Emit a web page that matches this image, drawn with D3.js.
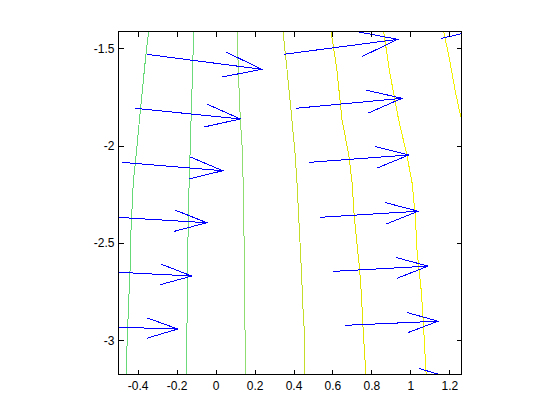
<!DOCTYPE html>
<html>
<head>
<meta charset="utf-8">
<script src="https://cdn.jsdelivr.net/npm/d3@7"></script>
<style>
  html, body { margin: 0; padding: 0; background: #ffffff; }
  svg { display: block; }
  .tick text { font-family: "Liberation Sans", Arial, Helvetica, sans-serif; font-size: 12px; fill: #000; }
</style>
</head>
<body>
<svg id="chart" width="560" height="420"></svg>
<script>
// ---------- data ----------
// axis limits (data units)
const xLimits = [-0.4986, 1.2626];
const yLimits = [-3.1757, -1.4137];

// tick values and labels
const xTicks = [-0.4, -0.2, 0, 0.2, 0.4, 0.6, 0.8, 1, 1.2];
const xTickLabels = ["-0.4", "-0.2", "0", "0.2", "0.4", "0.6", "0.8", "1", "1.2"];
const yTicks = [-1.5, -2, -2.5, -3];
const yTickLabels = ["-1.5", "-2", "-2.5", "-3"];

// quiver: arrow tails (x, y) and components (u, v)
const quiverX = [-0.353, -0.416, -0.480, -0.543, -0.606, -0.670,
                  0.349,  0.414,  0.478,  0.538,  0.603,  0.666, 0.731,
                  1.159];
const quiverY = [-1.531, -1.808, -2.086, -2.366, -2.645, -2.928,
                 -1.531, -1.808, -2.086, -2.368, -2.646, -2.923, -3.207,
                 -1.449];
const quiverU = [0.591, 0.543, 0.517, 0.498, 0.484, 0.476,
                 0.586, 0.543, 0.514, 0.502, 0.488, 0.476, 0.468,
                 0.534];
const quiverV = [-0.077, -0.055, -0.043, -0.030, -0.025, -0.014,
                  0.077,  0.051,  0.038,  0.031,  0.027,  0.021, 0.017,
                  0.123];

// contour lines (x, y pairs), one array per level, left to right
const contour1 = [[-0.338,-1.355],[-0.344,-1.414],[-0.358,-1.534],[-0.374,-1.694],[-0.391,-1.868],[-0.409,-2.058],[-0.423,-2.192],[-0.435,-2.449],[-0.438,-2.613],[-0.446,-2.793],[-0.454,-2.999],[-0.459,-3.173],[-0.462,-3.23]];
const contour2 = [[-0.112,-1.355],[-0.113,-1.414],[-0.118,-1.612],[-0.125,-1.832],[-0.131,-2.038],[-0.136,-2.192],[-0.140,-2.367],[-0.144,-2.623],[-0.147,-2.932],[-0.152,-3.173],[-0.153,-3.23]];
const contour3 = [[0.108,-1.355],[0.110,-1.414],[0.120,-1.699],[0.127,-1.868],[0.139,-2.048],[0.144,-2.367],[0.149,-2.623],[0.151,-2.947],[0.154,-3.173],[0.155,-3.23]];
const contour4 = [[0.340,-1.355],[0.346,-1.414],[0.367,-1.612],[0.392,-1.868],[0.409,-2.053],[0.418,-2.192],[0.431,-2.449],[0.440,-2.629],[0.449,-2.844],[0.456,-2.963],[0.458,-3.173],[0.459,-3.23]];
const contour5 = [[0.583,-1.355],[0.593,-1.414],[0.623,-1.612],[0.649,-1.868],[0.684,-2.048],[0.701,-2.192],[0.712,-2.367],[0.729,-2.536],[0.739,-2.629],[0.748,-2.757],[0.757,-2.932],[0.767,-3.101],[0.772,-3.173],[0.774,-3.23]];
const contour6 = [[0.848,-1.355],[0.863,-1.414],[0.892,-1.612],[0.940,-1.868],[0.982,-2.048],[1.009,-2.192],[1.026,-2.367],[1.034,-2.536],[1.044,-2.629],[1.057,-2.757],[1.068,-2.932],[1.077,-3.101],[1.081,-3.173],[1.082,-3.23]];
const contour7 = [[1.160,-1.355],[1.171,-1.414],[1.200,-1.551],[1.231,-1.723],[1.257,-1.843],[1.265,-1.868],[1.275,-1.95]];
const contourLines = [contour1, contour2, contour3, contour4, contour5, contour6, contour7];

// ---------- styles ----------
const contourColors = ["#66d977", "#6cd97a", "#8fdc70", "#c4dc2a", "#e2e200", "#f0f000", "#f0f000"];
const arrowColor = "#0000ff";
const headAlpha = 0.33, headBeta = 0.33; // arrow head shape

// ---------- layout ----------
const boxLeft = 118.5, boxRight = 461.5, boxTop = 31.5, boxBottom = 374.5;

const svg = d3.select("#chart");
const x = d3.scaleLinear().domain(xLimits).range([boxLeft, boxRight]);
const y = d3.scaleLinear().domain(yLimits).range([boxBottom, boxTop]);

svg.append("defs").append("clipPath").attr("id", "plotclip")
  .append("rect").attr("x", boxLeft).attr("y", boxTop)
  .attr("width", boxRight - boxLeft).attr("height", boxBottom - boxTop);

const plot = svg.append("g").attr("clip-path", "url(#plotclip)");

// contours
const line = d3.line().x(d => x(d[0])).y(d => y(d[1]));
plot.selectAll("path.contour").data(contourLines).enter()
  .append("path").attr("class", "contour")
  .attr("d", line)
  .attr("fill", "none")
  .attr("stroke", (d, i) => contourColors[i])
  .attr("stroke-width", 1)
  .attr("shape-rendering", "crispEdges");

// quiver arrows
const arrows = quiverX.map((qx, i) => ({x: qx, y: quiverY[i], u: quiverU[i], v: quiverV[i]}));
const eps = 2.2e-16;
plot.selectAll("line.shaft").data(arrows).enter()
  .append("line").attr("class", "shaft")
  .attr("x1", d => x(d.x)).attr("y1", d => y(d.y))
  .attr("x2", d => x(d.x + d.u)).attr("y2", d => y(d.y + d.v))
  .attr("stroke", arrowColor).attr("stroke-width", 1)
  .attr("shape-rendering", "crispEdges");

plot.selectAll("path.head").data(arrows).enter()
  .append("path").attr("class", "head")
  .attr("d", d => {
    const hx = d.x + d.u, hy = d.y + d.v;
    const pts = [
      [hx - headAlpha * (d.u + headBeta * (d.v + eps)), hy - headAlpha * (d.v - headBeta * (d.u + eps))],
      [hx, hy],
      [hx - headAlpha * (d.u - headBeta * (d.v + eps)), hy - headAlpha * (d.v + headBeta * (d.u + eps))]
    ];
    return line(pts);
  })
  .attr("fill", "none")
  .attr("stroke", arrowColor).attr("stroke-width", 1)
  .attr("shape-rendering", "crispEdges");

// axes (ticks pointing inward)
const tickLen = 5;
function styleAxis(g) {
  g.select(".domain").remove();
  g.selectAll(".tick line").attr("stroke", "#000").attr("shape-rendering", "crispEdges");
}
svg.append("g").attr("transform", `translate(0,${boxBottom})`)
  .call(d3.axisBottom(x).tickValues(xTicks).tickSize(-tickLen).tickPadding(6.5)
        .tickFormat((d, i) => xTickLabels[i]))
  .call(styleAxis);
svg.append("g").attr("transform", `translate(0,${boxTop})`)
  .call(d3.axisTop(x).tickValues(xTicks).tickSize(-tickLen).tickFormat(""))
  .call(styleAxis);
svg.append("g").attr("transform", `translate(${boxLeft},0)`)
  .call(d3.axisLeft(y).tickValues(yTicks).tickSize(-tickLen).tickPadding(4)
        .tickFormat((d, i) => yTickLabels[i]))
  .call(styleAxis);
svg.append("g").attr("transform", `translate(${boxRight},0)`)
  .call(d3.axisRight(y).tickValues(yTicks).tickSize(-tickLen).tickFormat(""))
  .call(styleAxis);

svg.selectAll(".tick text").attr("font-family", null).attr("font-size", null);

// box
svg.append("rect").attr("x", boxLeft).attr("y", boxTop)
  .attr("width", boxRight - boxLeft).attr("height", boxBottom - boxTop)
  .attr("fill", "none").attr("stroke", "#000").attr("stroke-width", 1)
  .attr("shape-rendering", "crispEdges");
</script>
</body>
</html>
